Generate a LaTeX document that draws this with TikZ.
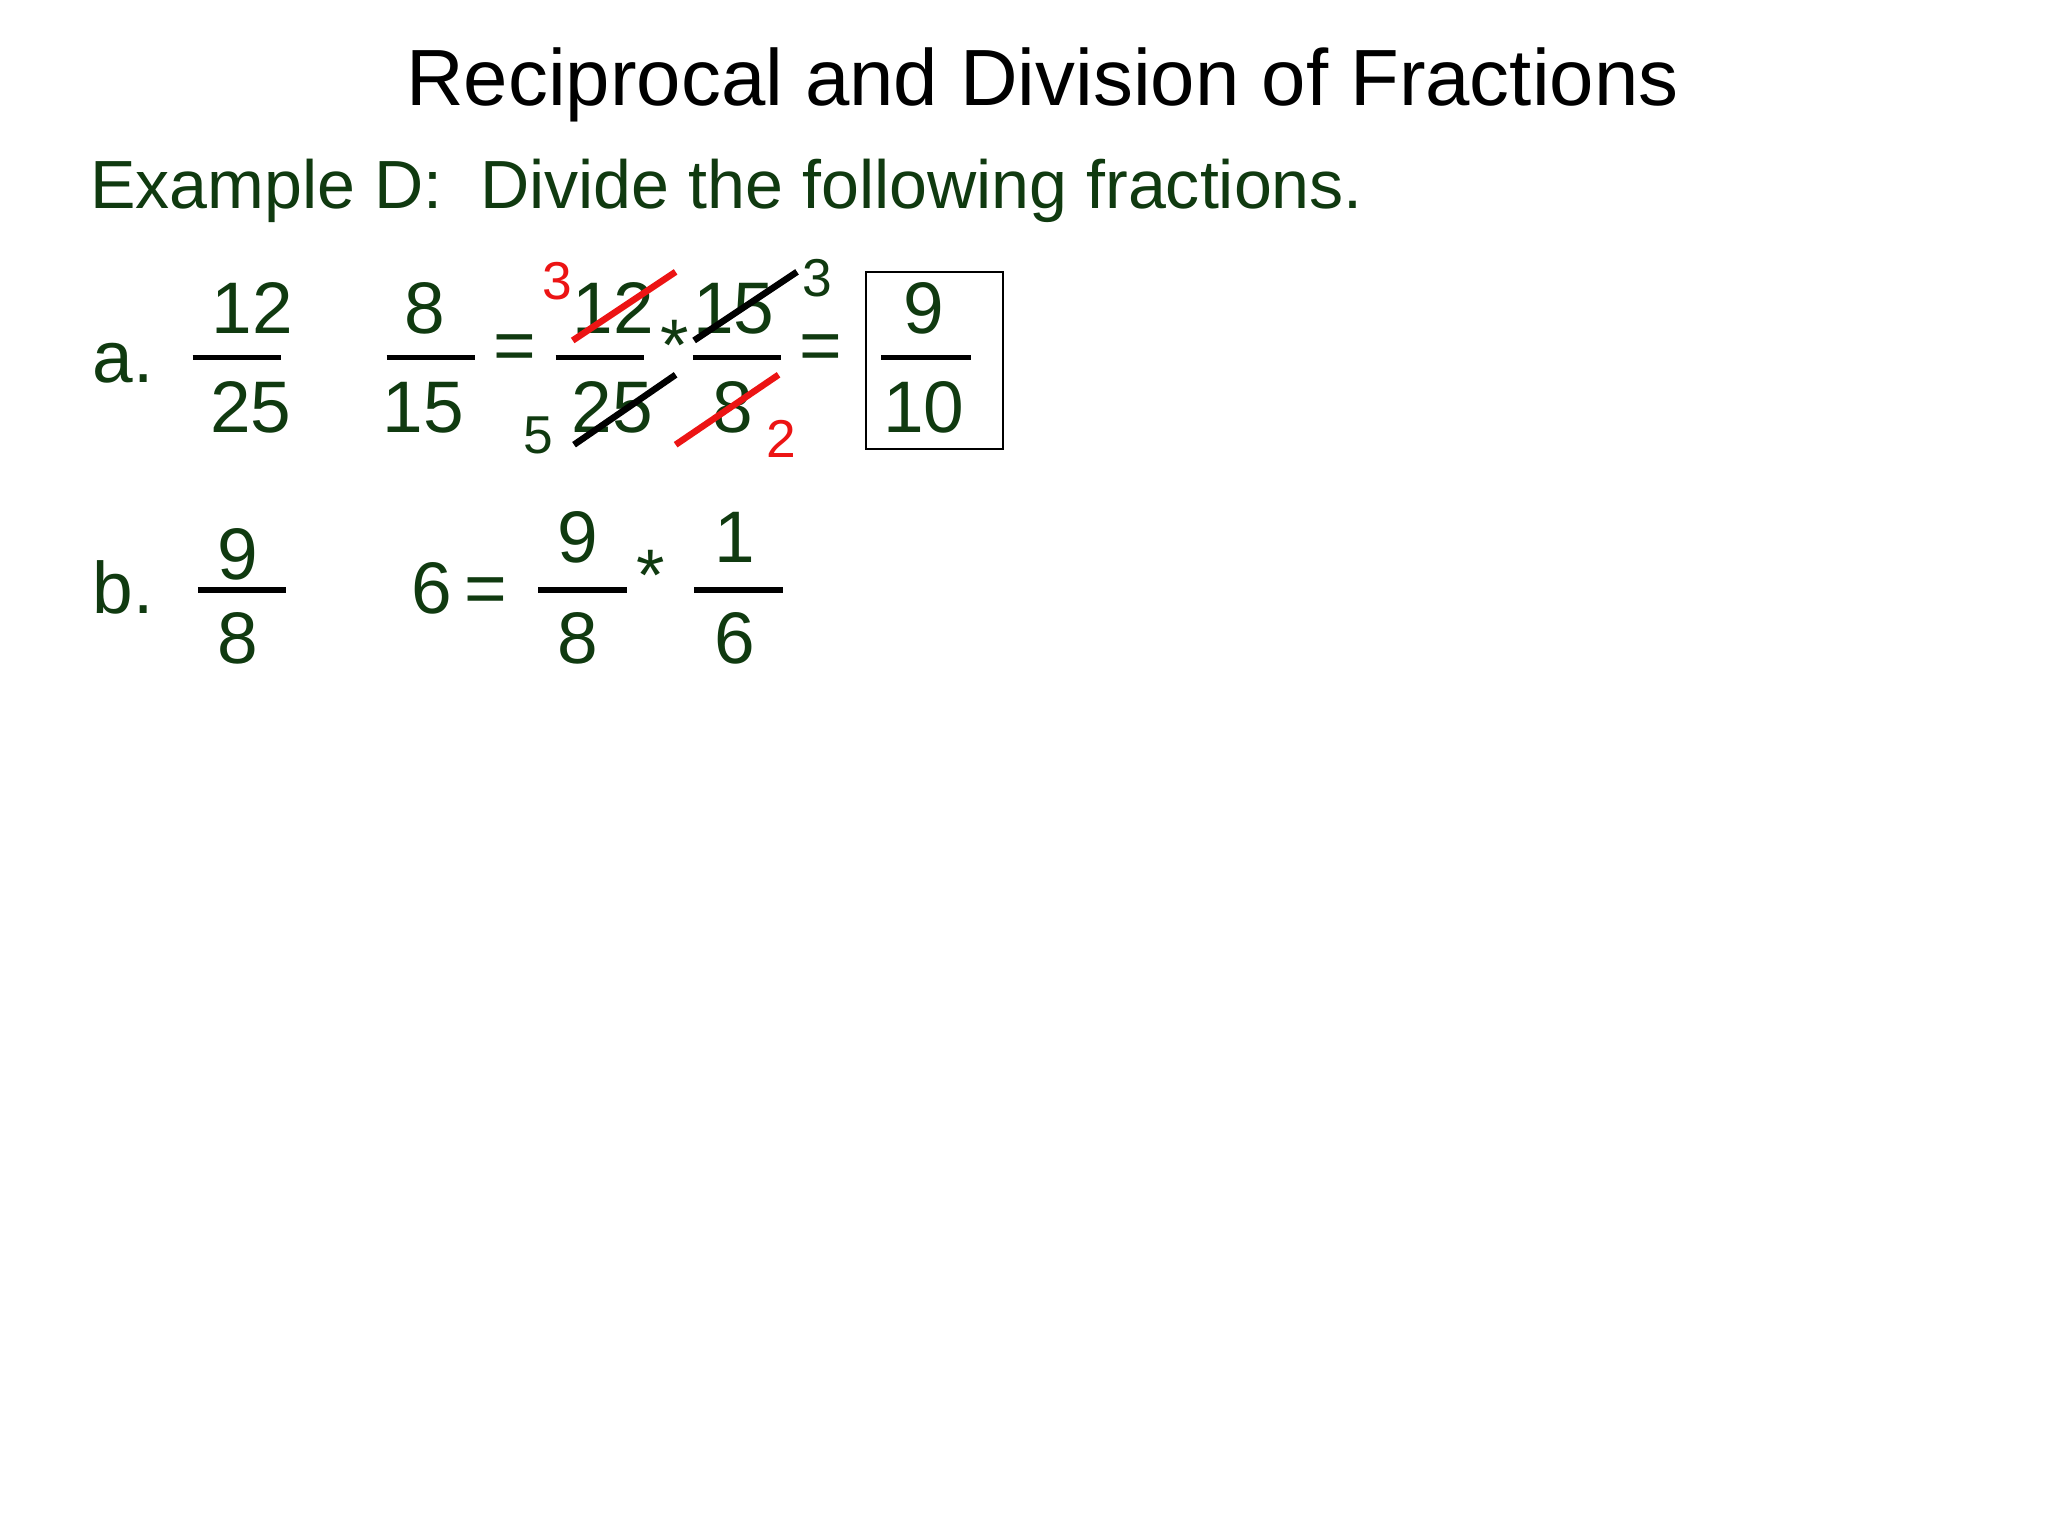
\documentclass[tikz,border=0pt]{standalone}
\usepackage{fontspec}
\setmainfont{Liberation Sans}
\definecolor{dg}{RGB}{16,58,16}
\definecolor{rd}{RGB}{236,20,20}
\begin{document}
\begin{tikzpicture}[x=0.02cm,y=-0.02cm,
  num/.style={inner sep=0,anchor=base,text=dg,font=\fontsize{31.5}{31.5}\selectfont},
  sm/.style={inner sep=0,anchor=base,font=\fontsize{23}{23}\selectfont},
  bar/.style={line width=2.3pt},
  slash/.style={line width=2.8pt}]
\useasboundingbox[fill=white] (0,0) rectangle (1552,1164);
\node[inner sep=0,anchor=base,font=\fontsize{34.4}{34.4}\selectfont] (title) at (790,80) {Reciprocal and Division of Fractions};
\node[inner sep=0,anchor=base west,text=dg,font=\fontsize{29.4}{29.4}\selectfont] (ex) at (68,158) {Example D:\ \ Divide the following fractions.};
% row a
\node[num,anchor=base west] (a) at (70,290) {a.};
\draw[bar] (146,271) coordinate (b1l) -- (213,271) coordinate (b1r);
\node[num] (n1) at (191,253) {12}; \node[num] (d1) at (190,328) {25};
\draw[bar] (293,271) coordinate (b2l) -- (360,271) coordinate (b2r);
\node[num] (n2) at (322,253) {8}; \node[num] (d2) at (321,328) {15};
\node[num] (eq1) at (390,281) {=};
\draw[bar] (421,271) coordinate (b3l) -- (488,271) coordinate (b3r);
\node[num] (n3) at (465,253) {12}; \node[num] (d3) at (464,328) {25};
\node[num] (st1) at (511,281) {*};
\draw[bar] (525,271) coordinate (b4l) -- (592,271) coordinate (b4r);
\node[num] (n4) at (556,253) {15}; \node[num] (d4) at (555,328) {8};
\node[num] (eq2) at (622,281) {=};
\draw[line width=1pt] (656,206) rectangle (760,340);
\draw[bar] (668,271) coordinate (b5l) -- (736,271) coordinate (b5r);
\node[num] (n5) at (700,253) {9}; \node[num] (d5) at (700,328) {10};
\coordinate (s1a) at (434,258); \coordinate (s1b) at (512,206);
\coordinate (s2a) at (526,258); \coordinate (s2b) at (604,206);
\coordinate (s3a) at (435,337); \coordinate (s3b) at (512,284);
\coordinate (s4a) at (512,337); \coordinate (s4b) at (590,284);
\draw[slash,rd] (s1a) -- (s1b);
\draw[slash] (s2a) -- (s2b);
\draw[slash] (s3a) -- (s3b);
\draw[slash,rd] (s4a) -- (s4b);
\node[sm,text=rd] (r3) at (422,227) {3};
\node[sm,text=dg] (k3) at (619,225) {3};
\node[sm,text=dg] (k5) at (408,344) {5};
\node[sm,text=rd] (r2) at (592,347) {2};
% row b
\node[num,anchor=base west] (b) at (70,465) {b.};
\draw[bar] (150,447) coordinate (c1l) -- (217,447) coordinate (c1r);
\node[num] (m1) at (180,439) {9}; \node[num] (e1) at (180,503) {8};
\node[num] (six) at (327,465) {6}; \node[num] (eq3) at (368,465) {=};
\draw[bar] (408,447) coordinate (c2l) -- (475,447) coordinate (c2r);
\node[num] (m2) at (438,426) {9}; \node[num] (e2) at (438,503) {8};
\node[num] (st2) at (493,455) {*};
\draw[bar] (526,447) coordinate (c3l) -- (593,447) coordinate (c3r);
\node[num] (m3) at (557,426) {1}; \node[num] (e3) at (557,503) {6};
\end{tikzpicture}
\end{document}
